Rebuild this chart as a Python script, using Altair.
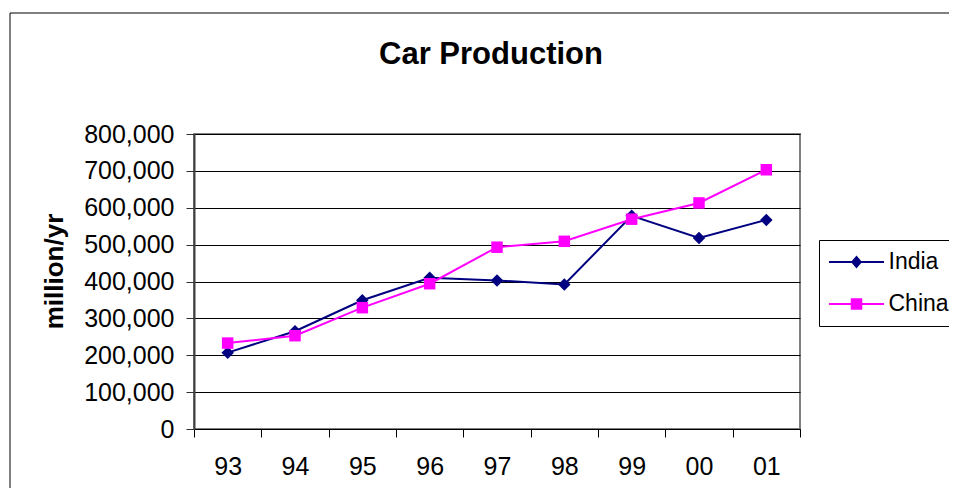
import altair as alt
import pandas as pd

# ---- data ----
years = ["93", "94", "95", "96", "97", "98", "99", "00", "01"]
india = [207000, 265000, 349000, 410000, 403000, 392000, 578000, 518000, 567000]
china = [233000, 253000, 329000, 394000, 493000, 509000, 569000, 613000, 703000]
series_names = ["India", "China"]
y_ticks = [0, 100000, 200000, 300000, 400000, 500000, 600000, 700000, 800000]

# ---- styles ----
series_colors = ["#000080", "#FF00FF"]
series_shapes = ["diamond", "square"]
# legend symbols: a short line with the marker on it (unit coords, scaled by sqrt(size)/2)
legend_paths = [
    "M-2.29,-0.083H2.29V0.083H-2.29Z M0,-0.54L0.46,0L0,0.54L-0.46,0Z",
    "M-2.29,-0.083H2.29V0.083H-2.29Z M-0.48,-0.48H0.48V0.48H-0.48Z",
]
FONT = "Liberation Sans"

rows = []
for name, vals in zip(series_names, [india, china]):
    for yr, v in zip(years, vals):
        rows.append({"year": yr, "series": name, "value": v})
df = pd.DataFrame(rows)

x_enc = alt.X(
    "year:N",
    sort=years,
    bandPosition=0.5,
    scale=alt.Scale(type="band", paddingInner=0, paddingOuter=0),
    axis=alt.Axis(
        title=None, tickBand="extent", labelAngle=0, labelFont=FONT,
        labelFontSize=25, labelColor="black", tickSize=8, tickColor="black",
        tickWidth=1, domainColor="black", domainWidth=1, labelPadding=17,
        grid=False,
    ),
)
y_enc = alt.Y(
    "value:Q",
    scale=alt.Scale(domain=[0, 800000], nice=False, zero=True),
    axis=alt.Axis(
        title="million/yr", values=y_ticks, format=",d", labelFont=FONT,
        labelFontSize=25, labelColor="black", tickSize=8, tickColor="#303030",
        tickWidth=1, domainColor="#404040", domainWidth=2, labelPadding=12,
        grid=True, gridColor="black", gridWidth=1, gridOpacity=1,
        titleFont=FONT, titleFontSize=26, titleFontWeight="bold",
        titleColor="black", titleAngle=270, titleX=-140, titleY=137,
        titleAlign="center", titleBaseline="middle",
    ),
)

base = alt.Chart(df)

layers = []
# chart-area frame (decoration)
frame = alt.Chart(pd.DataFrame({"k": [0]})).mark_rect(
    fillOpacity=0, stroke="black", strokeWidth=1
).encode(
    x=alt.value(-184), x2=alt.value(900), y=alt.value(-121), y2=alt.value(500)
)
layers.append(frame)

for name, col, shp in zip(series_names, series_colors, series_shapes):
    sub = base.transform_filter(alt.datum.series == name)
    layers.append(sub.mark_line(color=col, strokeWidth=2).encode(x=x_enc, y=y_enc))
    layers.append(
        sub.mark_point(
            color=col, filled=True, opacity=1, shape=shp,
            size=156 if shp == "diamond" else 132,
        ).encode(x=x_enc, y=y_enc)
    )

legend_layer = base.transform_filter("false").mark_point(filled=True, opacity=1).encode(
    color=alt.Color(
        "series:N",
        scale=alt.Scale(domain=series_names, range=series_colors),
        legend=alt.Legend(title=None),
    ),
    shape=alt.Shape(
        "series:N",
        scale=alt.Scale(domain=series_names, range=legend_paths),
        legend=alt.Legend(title=None),
    ),
)
layers.append(legend_layer)

chart = alt.layer(*layers).properties(
    width=606,
    height=295,
    autosize=alt.AutoSizeParams(type="none"),
    padding={"left": 186, "top": 126, "right": 149, "bottom": 59},
    title=alt.TitleParams(
        "Car Production", font=FONT, fontSize=31, fontWeight="bold",
        color="black", anchor="middle", frame="group", baseline="alphabetic",
        offset=-82, dx=-6,
    ),
    background="white",
).configure_view(
    fill="#C0C0C0", stroke="#808080", strokeWidth=2
).configure_legend(
    orient="none", legendX=625, legendY=106, padding=10,
    strokeColor="black", fillColor="white", labelFont=FONT,
    labelFontSize=23, labelColor="black", symbolSize=576,
    symbolStrokeWidth=0, symbolOffset=15.5, labelOffset=20,
    rowPadding=18, cornerRadius=0,
)

chart.save("out.html", embed_options={"renderer": "svg", "actions": False})
